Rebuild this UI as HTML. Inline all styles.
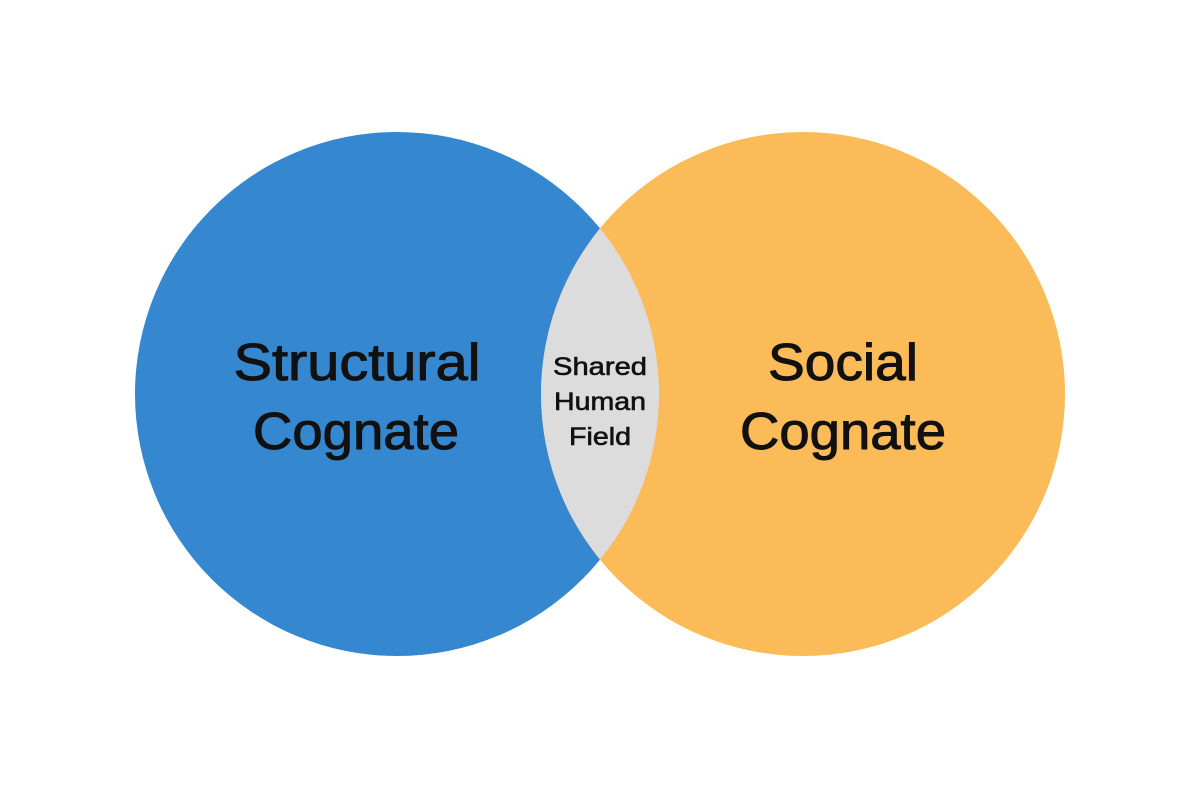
<!DOCTYPE html>
<html><head><meta charset="utf-8"><style>html,body{margin:0;padding:0;background:#fff;}svg{display:block}</style></head>
<body>
<svg width="1200" height="800" viewBox="0 0 1200 800" xmlns="http://www.w3.org/2000/svg">
<defs>
<clipPath id="cl"><circle cx="397" cy="394" r="262"/></clipPath>
</defs>
<rect width="1200" height="800" fill="#fff"/>
<circle cx="397" cy="394" r="262" fill="#3587CF"/>
<circle cx="803" cy="394" r="262" fill="#FBBB58"/>
<circle cx="803" cy="394" r="262" fill="#DCDCDC" clip-path="url(#cl)"/>
<g font-family="Liberation Sans, DejaVu Sans, sans-serif" fill="#111" stroke="#111" text-anchor="middle">
<text x="357" y="380" font-size="52" stroke-width="1" textLength="247" lengthAdjust="spacingAndGlyphs">Structural</text>
<text x="356" y="449" font-size="52" stroke-width="1" textLength="206" lengthAdjust="spacingAndGlyphs">Cognate</text>
<text x="843" y="380" font-size="52" stroke-width="1" textLength="150" lengthAdjust="spacingAndGlyphs">Social</text>
<text x="843" y="449" font-size="52" stroke-width="1" textLength="206" lengthAdjust="spacingAndGlyphs">Cognate</text>
<text x="600" y="375" font-size="25" stroke-width="0.6" textLength="94" lengthAdjust="spacingAndGlyphs">Shared</text>
<text x="600" y="410" font-size="25" stroke-width="0.6" textLength="92" lengthAdjust="spacingAndGlyphs">Human</text>
<text x="600" y="445" font-size="25" stroke-width="0.6" textLength="62" lengthAdjust="spacingAndGlyphs">Field</text>
</g>
</svg>
</body></html>
